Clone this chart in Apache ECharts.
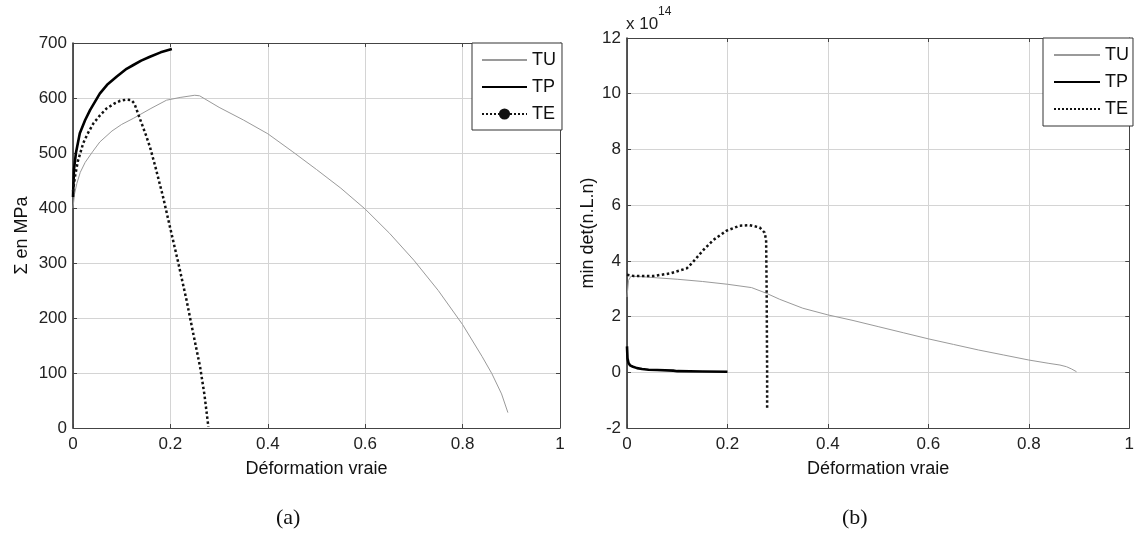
<!DOCTYPE html>
<html>
<head>
<meta charset="utf-8">
<script src="https://cdn.jsdelivr.net/npm/echarts@6/dist/echarts.min.js"></script>
<style>
html,body{margin:0;padding:0;background:#fff;}
#chart{width:1137px;height:536px;}
</style>
</head>
<body>
<div id="chart"></div>
<script>
// ---- Plot (a): true stress (MPa) vs true strain ----
const tuStrainA = [0, 0.003, 0.008, 0.015, 0.025, 0.04, 0.055, 0.08, 0.1, 0.124, 0.16, 0.192, 0.22, 0.25, 0.26, 0.3, 0.35, 0.4, 0.45, 0.5, 0.55, 0.6, 0.65, 0.7, 0.75, 0.8, 0.84, 0.86, 0.88, 0.893];
const tuStressA = [400, 425, 445, 465, 483, 502, 520, 540, 552, 563, 581, 596, 601, 605, 604, 583, 560, 535, 503, 470, 436, 398, 354, 305, 250, 188, 130, 99, 62, 28];
const tpStrainA = [0, 0.002, 0.006, 0.014, 0.025, 0.035, 0.055, 0.07, 0.09, 0.11, 0.124, 0.14, 0.158, 0.18, 0.203];
const tpStressA = [420, 470, 500, 536, 560, 578, 608, 624, 639, 653, 660, 668, 675, 683, 689];
const teStrainA = [0, 0.004, 0.01, 0.021, 0.03, 0.042, 0.055, 0.069, 0.085, 0.097, 0.11, 0.12, 0.126, 0.131, 0.14, 0.15, 0.158, 0.17, 0.185, 0.2, 0.215, 0.233, 0.245, 0.261, 0.27, 0.278];
const teStressA = [430, 457, 485, 518, 535, 554, 568, 581, 590, 595, 597, 596, 590, 578, 556, 532, 511, 472, 420, 362, 305, 233, 180, 111, 60, 2];

// ---- Plot (b): min det(n.L.n), in units of 1e14 ----
const tuStrainB = [0, 0.003, 0.008, 0.03, 0.06, 0.1, 0.15, 0.2, 0.248, 0.277, 0.304, 0.35, 0.4, 0.45, 0.5, 0.55, 0.6, 0.65, 0.7, 0.75, 0.8, 0.84, 0.862, 0.875, 0.885, 0.895];
const tuDetB = [2.7, 3.3, 3.45, 3.43, 3.39, 3.34, 3.26, 3.16, 3.04, 2.84, 2.62, 2.3, 2.06, 1.86, 1.64, 1.42, 1.2, 1.0, 0.8, 0.62, 0.44, 0.32, 0.26, 0.2, 0.12, 0.02];
const tpStrainB = [0, 0.001, 0.003, 0.006, 0.012, 0.02, 0.03, 0.043, 0.06, 0.092, 0.1, 0.15, 0.2];
const tpDetB = [0.93, 0.5, 0.33, 0.25, 0.2, 0.15, 0.12, 0.09, 0.08, 0.06, 0.04, 0.03, 0.02];
const teStrainB = [0, 0.003, 0.013, 0.053, 0.086, 0.119, 0.129, 0.152, 0.172, 0.198, 0.224, 0.244, 0.264, 0.274, 0.277, 0.278, 0.279, 0.279];
const teDetB = [3.5, 3.53, 3.46, 3.46, 3.55, 3.73, 3.91, 4.39, 4.75, 5.08, 5.26, 5.28, 5.2, 5.01, 4.75, 3.0, 0, -1.35];

const xTicksInterval = 0.2;
const seriesNames = ['TU', 'TP', 'TE'];

function zip(a, b) { return a.map((v, i) => [v, b[i]]); }

const chart = echarts.init(document.getElementById('chart'), null, {renderer: 'canvas'});

const tickFont = {fontFamily: 'Liberation Sans, Arial, sans-serif', fontSize: 17, color: '#222'};
const nameFont = {fontFamily: 'Liberation Sans, Arial, sans-serif', fontSize: 18, color: '#111'};
const splitLine = {show: true, lineStyle: {color: '#d4d4d4', width: 1}};
const axLine = {show: true, onZero: false, lineStyle: {color: '#444', width: 1}};
const tick = {show: true, inside: true, length: 4, lineStyle: {color: '#444'}};
const noDot = {opacity: 0};

function bottomX(gi) {
  return {type: 'value', gridIndex: gi, min: 0, max: 1, interval: xTicksInterval,
    axisLine: axLine, axisTick: tick, splitLine: splitLine,
    axisLabel: Object.assign({margin: 8}, tickFont),
    name: 'Déformation vraie', nameLocation: 'middle', nameGap: 32, nameTextStyle: nameFont};
}
function topX(gi) {
  return {type: 'value', gridIndex: gi, position: 'top', min: 0, max: 1, interval: xTicksInterval,
    axisLine: axLine, axisTick: tick, splitLine: {show: false}, axisLabel: {show: false}};
}
function rightY(gi, min, max, itv) {
  return {type: 'value', gridIndex: gi, position: 'right', min: min, max: max, interval: itv,
    axisLine: axLine, axisTick: tick, splitLine: {show: false}, axisLabel: {show: false}};
}

const option = {
  animation: false,
  backgroundColor: '#fff',
  grid: [
    {left: 73, top: 43, width: 487, height: 385, show: false},
    {left: 627, top: 38, width: 506, height: 390, show: false}
  ],
  xAxis: [bottomX(0), bottomX(1), topX(0), topX(1)],
  yAxis: [
    {type: 'value', gridIndex: 0, min: 0, max: 700, interval: 100,
      axisLine: {show: true, onZero: false, lineStyle: {color: '#222', width: 1.5}}, axisTick: tick, splitLine: splitLine,
      axisLabel: Object.assign({margin: 6}, tickFont),
      name: 'Σ en MPa', nameLocation: 'middle', nameGap: 42, nameTextStyle: nameFont},
    {type: 'value', gridIndex: 1, min: -2, max: 12, interval: 2,
      axisLine: {show: true, onZero: false, lineStyle: {color: '#222', width: 1.5}}, axisTick: tick, splitLine: splitLine,
      axisLabel: Object.assign({margin: 6}, tickFont),
      name: 'min det(n.L.n)', nameLocation: 'middle', nameGap: 30, nameTextStyle: nameFont},
    rightY(0, 0, 700, 100),
    rightY(1, -2, 12, 2)
  ],
  legend: [
    {left: 472, top: 43, orient: 'vertical', itemWidth: 45, itemHeight: 14, itemGap: 9,
      padding: [8, 6, 7, 9], borderColor: '#333', borderWidth: 1, borderRadius: 0, backgroundColor: '#fff',
      textStyle: nameFont, selectedMode: false,
      data: [{name: 'TU', itemStyle: noDot}, {name: 'TP', itemStyle: noDot}, {name: 'TE'}]},
    {left: 1043, top: 38, orient: 'vertical', itemWidth: 46, itemHeight: 14, itemGap: 9,
      padding: [8, 4, 8, 10], borderColor: '#333', borderWidth: 1, borderRadius: 0, backgroundColor: '#fff',
      textStyle: nameFont, selectedMode: false,
      data: [{name: 'TU', itemStyle: noDot}, {name: 'TP', itemStyle: noDot}, {name: 'TE', itemStyle: noDot}]}
  ],
  graphic: [
    {type: 'text', left: 626, top: 16, style: {text: 'x 10', fontFamily: 'Liberation Sans, Arial, sans-serif', fontSize: 17, fill: '#222'}},
    {type: 'text', left: 658, top: 6, style: {text: '14', fontFamily: 'Liberation Sans, Arial, sans-serif', fontSize: 12, fill: '#222'}},
    {type: 'text', left: 276, top: 507, style: {text: '(a)', fontFamily: 'Liberation Serif, Times New Roman, serif', fontSize: 22, fill: '#111'}},
    {type: 'text', left: 842, top: 507, style: {text: '(b)', fontFamily: 'Liberation Serif, Times New Roman, serif', fontSize: 22, fill: '#111'}}
  ],
  series: [
    {name: seriesNames[0], type: 'line', xAxisIndex: 0, yAxisIndex: 0, symbol: 'none',
      lineStyle: {color: '#9a9a9a', width: 1}, itemStyle: {color: '#9a9a9a'}, data: zip(tuStrainA, tuStressA)},
    {name: seriesNames[1], type: 'line', xAxisIndex: 0, yAxisIndex: 0, symbol: 'none',
      lineStyle: {color: '#000', width: 2.6}, itemStyle: {color: '#000'}, data: zip(tpStrainA, tpStressA)},
    {name: seriesNames[2], type: 'line', xAxisIndex: 0, yAxisIndex: 0, symbol: 'circle', symbolSize: 6, showSymbol: false,
      lineStyle: {color: '#111', width: 2.5, type: 'dotted'}, itemStyle: {color: '#111'}, data: zip(teStrainA, teStressA)},
    {name: seriesNames[0], type: 'line', xAxisIndex: 1, yAxisIndex: 1, symbol: 'none',
      lineStyle: {color: '#9a9a9a', width: 1}, itemStyle: {color: '#9a9a9a'}, data: zip(tuStrainB, tuDetB)},
    {name: seriesNames[1], type: 'line', xAxisIndex: 1, yAxisIndex: 1, symbol: 'none',
      lineStyle: {color: '#000', width: 2.6}, itemStyle: {color: '#000'}, data: zip(tpStrainB, tpDetB)},
    {name: seriesNames[2], type: 'line', xAxisIndex: 1, yAxisIndex: 1, symbol: 'none',
      lineStyle: {color: '#111', width: 2.5, type: 'dotted'}, itemStyle: {color: '#111'}, data: zip(teStrainB, teDetB)}
  ]
};
chart.setOption(option);
</script>
</body>
</html>
